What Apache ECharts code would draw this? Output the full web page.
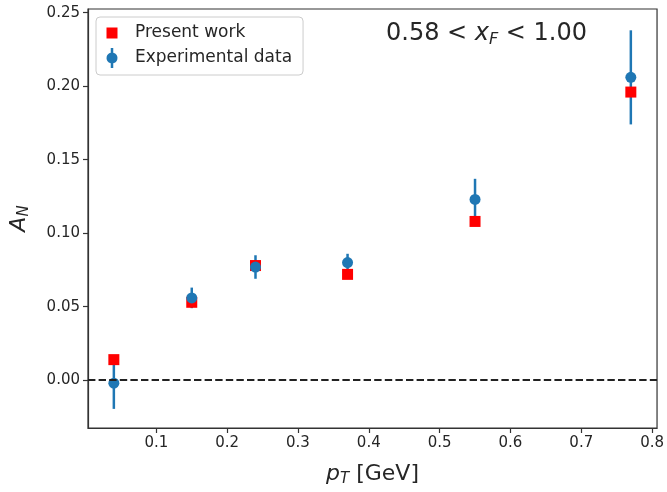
<!DOCTYPE html>
<html>
<head>
<meta charset="utf-8">
<script src="https://cdn.jsdelivr.net/npm/echarts@6/dist/echarts.min.js"></script>
<style>
  html, body { margin: 0; padding: 0; background: #fff; }
  #main { width: 667px; height: 492px; }
</style>
</head>
<body>
<div id="main"></div>
<script>
// pT bins [GeV]
const pT = [0.04, 0.15, 0.24, 0.37, 0.55, 0.77]
// model curve points (present work)
const presentWork = [0.014, 0.053, 0.078, 0.072, 0.108, 0.196]
// measured A_N and its error
const expData = [-0.002, 0.056, 0.077, 0.080, 0.123, 0.206]
const expErr = [0.0175, 0.007, 0.008, 0.006, 0.014, 0.032]
// tick labels
const xTicks = [0.1, 0.2, 0.3, 0.4, 0.5, 0.6, 0.7, 0.8]
const yTicks = [0.00, 0.05, 0.10, 0.15, 0.20, 0.25]

const FONT = 'DejaVu Sans'
const INK = '#262626'
const BLUE = '#1f77b4'
const RED = '#ff0000'

const chart = echarts.init(document.getElementById('main'), null, { renderer: 'canvas' })

const errRows = pT.map((x, i) => [x, expData[i] - expErr[i], expData[i] + expErr[i]])

// legend icons (extra M points pad the bounding box)
const squareIcon = 'path://M0,0M14,20M1.5,4.5H12.5V15.5H1.5Z'
const errIcon = 'path://M0,0M14,20M5.75,0H8.25V4.644A5.5,5.5 0 0 1 8.25,15.356V20H5.75V15.356A5.5,5.5 0 0 1 5.75,4.644Z'

const subRich = {
  i: { fontFamily: FONT, fontStyle: 'italic', fontWeight: 'normal', fontSize: 22, lineHeight: 26, color: INK },
  n: { fontFamily: FONT, fontWeight: 'normal', fontSize: 22, lineHeight: 26, color: INK },
  s: { fontFamily: FONT, fontStyle: 'italic', fontWeight: 'normal', fontSize: 15, lineHeight: 15, verticalAlign: 'bottom', color: INK }
}

const option = {
  animation: false,
  backgroundColor: '#fff',
  textStyle: { fontFamily: FONT },
  grid: {
    left: 87, right: 8, top: 9, bottom: 58,
    show: true, borderColor: '#333', borderWidth: 1.2, backgroundColor: 'transparent'
  },
  title: {
    text: '{n|0.58 < }{i|x}{s|F}{n| < 1.00}',
    left: 381, top: 15,
    textStyle: {
      fontFamily: FONT, fontSize: 24, fontWeight: 'normal', color: INK,
      rich: {
        n: { fontFamily: FONT, fontWeight: 'normal', fontSize: 24, lineHeight: 28, color: INK },
        i: { fontFamily: FONT, fontStyle: 'italic', fontWeight: 'normal', fontSize: 24, lineHeight: 28, color: INK },
        s: { fontFamily: FONT, fontStyle: 'italic', fontWeight: 'normal', fontSize: 16, lineHeight: 16, verticalAlign: 'bottom', color: INK }
      }
    }
  },
  legend: {
    left: 96, top: 17,
    orient: 'vertical',
    padding: [6, 11, 7, 9],
    itemGap: 5,
    itemWidth: 14, itemHeight: 20,
    borderColor: '#cccccc', borderWidth: 1, borderRadius: 4,
    backgroundColor: '#fff',
    textStyle: { fontFamily: FONT, fontSize: 17, color: INK, padding: [0, 0, 0, 11] },
    data: [
      { name: 'Present work', icon: squareIcon },
      { name: 'Experimental data', icon: errIcon }
    ]
  },
  xAxis: {
    type: 'value',
    min: 0.0035, max: 0.807,
    name: '{i|p}{s|T}{n| [GeV]}',
    nameLocation: 'middle', nameGap: 33,
    nameTextStyle: { rich: subRich },
    splitLine: { show: false },
    axisLine: { show: true, onZero: false, lineStyle: { color: '#333', width: 1.2 } },
    axisTick: { show: true, inside: false, length: 5, lineStyle: { color: '#333', width: 1.2 }, customValues: xTicks },
    axisLabel: {
      customValues: xTicks, fontFamily: FONT, fontSize: 15, color: INK, margin: 8,
      formatter: v => v.toFixed(1)
    }
  },
  yAxis: {
    type: 'value',
    min: -0.0325, max: 0.2525,
    name: '{i|A}{s|N}',
    nameLocation: 'middle', nameGap: 56, nameRotate: 90,
    nameTextStyle: { rich: subRich },
    splitLine: { show: false },
    axisLine: { show: true, onZero: false, lineStyle: { color: '#333', width: 1.2 } },
    axisTick: { show: true, inside: false, length: 5, lineStyle: { color: '#333', width: 1.2 }, customValues: yTicks },
    axisLabel: {
      customValues: yTicks, fontFamily: FONT, fontSize: 15, color: INK, margin: 8,
      formatter: v => v.toFixed(2)
    }
  },
  series: [
    {
      name: 'errbars',
      type: 'custom',
      z: 1,
      silent: true,
      data: errRows,
      renderItem: (params, api) => {
        const lo = api.coord([api.value(0), api.value(1)])
        const hi = api.coord([api.value(0), api.value(2)])
        return {
          type: 'line',
          shape: { x1: lo[0], y1: lo[1], x2: hi[0], y2: hi[1] },
          style: { stroke: BLUE, lineWidth: 2.5 }
        }
      },
      markLine: {
        silent: true,
        symbol: ['none', 'none'],
        label: { show: false },
        lineStyle: { color: '#222', width: 2, type: [7.4, 3.2] },
        data: [{ yAxis: 0 }]
      }
    },
    {
      name: 'Present work',
      type: 'scatter',
      z: 2,
      symbol: 'rect',
      symbolSize: 11,
      itemStyle: { color: RED, opacity: 1 },
      data: pT.map((x, i) => [x, presentWork[i]])
    },
    {
      name: 'Experimental data',
      type: 'scatter',
      z: 3,
      symbol: 'circle',
      symbolSize: 11,
      itemStyle: { color: BLUE, opacity: 1 },
      data: pT.map((x, i) => [x, expData[i]])
    }
  ]
}

chart.setOption(option)
</script>
</body>
</html>
